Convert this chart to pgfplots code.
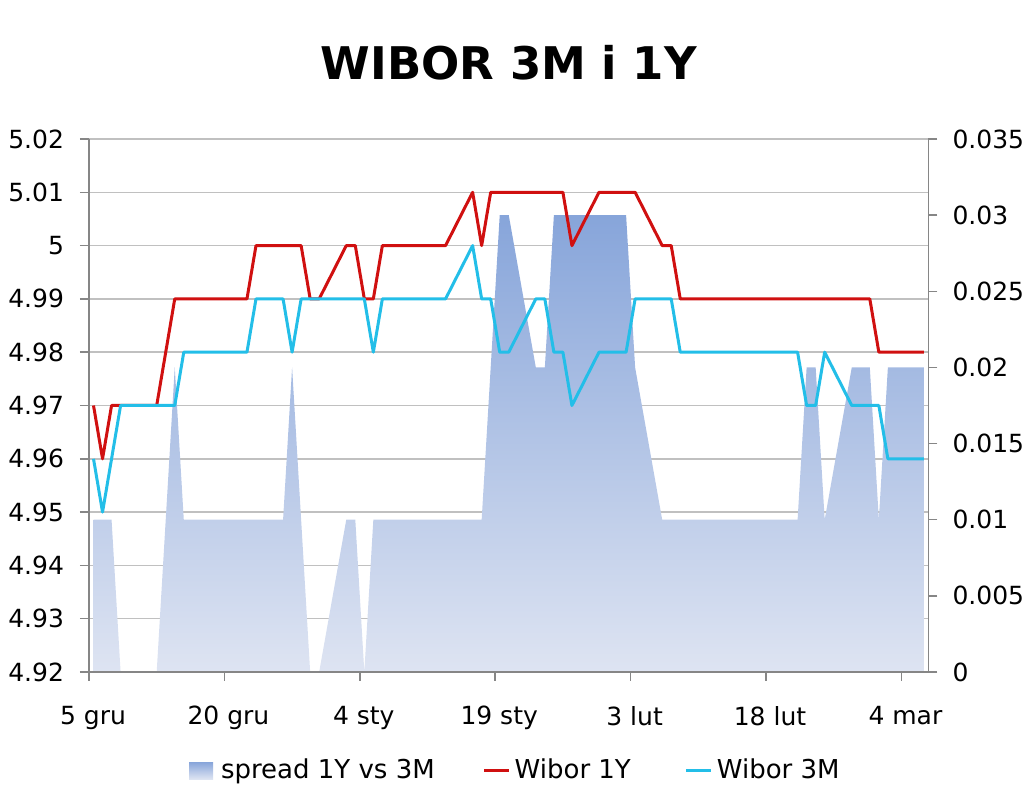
\documentclass[border=0pt]{standalone}
\usepackage{fontspec}
\setmainfont{DejaVu Sans}
\usepackage{pgfplots}
\usepackage{pgfplotstable}
\pgfplotsset{compat=1.18}

\definecolor{red1y}{RGB}{208,16,16}
\definecolor{cyan3m}{RGB}{35,190,232}
\definecolor{sprtop}{RGB}{135,165,218}
\definecolor{sprbot}{RGB}{222,228,242}
\definecolor{gridc}{RGB}{192,192,192}
\definecolor{axisc}{RGB}{134,134,134}

% d = days since 5 gru, y1 = Wibor 1Y, m3 = Wibor 3M, sp = spread 1Y vs 3M
\pgfplotstableread{
d  y1   m3   sp
0  4.97 4.96 0.01
1  4.96 4.95 0.01
2  4.97 4.96 0.01
3  4.97 4.97 0
4  4.97 4.97 0
7  4.97 4.97 0
8  4.98 4.97 0.01
9  4.99 4.97 0.02
10 4.99 4.98 0.01
11 4.99 4.98 0.01
14 4.99 4.98 0.01
15 4.99 4.98 0.01
16 4.99 4.98 0.01
17 4.99 4.98 0.01
18 5.00 4.99 0.01
21 5.00 4.99 0.01
22 5.00 4.98 0.02
23 5.00 4.99 0.01
24 4.99 4.99 0
25 4.99 4.99 0
28 5.00 4.99 0.01
29 5.00 4.99 0.01
30 4.99 4.99 0
31 4.99 4.98 0.01
32 5.00 4.99 0.01
35 5.00 4.99 0.01
36 5.00 4.99 0.01
37 5.00 4.99 0.01
38 5.00 4.99 0.01
39 5.00 4.99 0.01
42 5.01 5.00 0.01
43 5.00 4.99 0.01
44 5.01 4.99 0.02
45 5.01 4.98 0.03
46 5.01 4.98 0.03
49 5.01 4.99 0.02
50 5.01 4.99 0.02
51 5.01 4.98 0.03
52 5.01 4.98 0.03
53 5.00 4.97 0.03
56 5.01 4.98 0.03
57 5.01 4.98 0.03
58 5.01 4.98 0.03
59 5.01 4.98 0.03
60 5.01 4.99 0.02
63 5.00 4.99 0.01
64 5.00 4.99 0.01
65 4.99 4.98 0.01
66 4.99 4.98 0.01
67 4.99 4.98 0.01
70 4.99 4.98 0.01
71 4.99 4.98 0.01
72 4.99 4.98 0.01
73 4.99 4.98 0.01
74 4.99 4.98 0.01
77 4.99 4.98 0.01
78 4.99 4.98 0.01
79 4.99 4.97 0.02
80 4.99 4.97 0.02
81 4.99 4.98 0.01
84 4.99 4.97 0.02
85 4.99 4.97 0.02
86 4.99 4.97 0.02
87 4.98 4.97 0.01
88 4.98 4.96 0.02
91 4.98 4.96 0.02
92 4.98 4.96 0.02
}\wibor

\pgfplotsset{
  base/.style={
    scale only axis, width=419.75pt, height=266.5pt,
    at={(0,0)}, anchor=south west,
    xmin=0, xmax=93,
    axis line style={axisc, line width=0.75pt},
    tick style={axisc, line width=0.75pt},
    major tick length=4.5pt,
    tick align=outside,
    ticklabel style={font=\fontsize{12.5}{15}\selectfont},
  },
}

\begin{document}
\begin{tikzpicture}
\path[use as bounding box] (-44.5pt,-59.5pt) rectangle (467.5pt,336pt);

% grid
\begin{axis}[base,
  ymin=4.92, ymax=5.02,
  ytick={4.93,4.94,4.95,4.96,4.97,4.98,4.99,5.00,5.01,5.02},
  yticklabels={}, xtick=\empty,
  ymajorgrids, grid style={gridc, line width=0.75pt},
  axis line style={draw=none}, major tick length=0pt]
\addplot[draw=none] coordinates {(0,4.92)};
\end{axis}

% spread on right axis
\begin{axis}[base,
  axis y line*=right, axis x line=none,
  ymin=0, ymax=0.035, scaled y ticks=false,
  ytick={0,0.005,0.01,0.015,0.02,0.025,0.03,0.035},
  yticklabels={0,0.005,0.01,0.015,0.02,0.025,0.03,0.035},
  yticklabel style={xshift=4pt}]
\addplot[draw=none, top color=sprtop, bottom color=sprbot]
  table[x expr=\thisrow{d}+0.5, y=sp] {\wibor} \closedcycle;
\end{axis}

% rates on left axis
\begin{axis}[base,
  axis x line*=bottom, axis y line*=left,
  ymin=4.92, ymax=5.02,
  ytick={4.92,4.93,4.94,4.95,4.96,4.97,4.98,4.99,5.00,5.01,5.02},
  yticklabels={4.92,4.93,4.94,4.95,4.96,4.97,4.98,4.99,5,5.01,5.02},
  yticklabel style={xshift=-4.5pt},
  xtick={0,15,30,45,60,75,90},
  xticklabels={5 gru,20 gru,4 sty,19 sty,3 lut,18 lut,4 mar},
  xticklabel style={xshift=2pt, yshift=-9pt},
  legend columns=3,
  legend style={at={(axis description cs:0.509,-0.185)}, anchor=center,
    draw=none, fill=none, font=\fontsize{13}{15}\selectfont,
    /tikz/every odd column/.append style={column sep=0pt}},
  legend image code/.code={\draw[#1] (0pt,0pt) -- (12.5pt,0pt);}]
\addlegendimage{legend image code/.code={\path[draw=none, top color=sprtop, bottom color=sprbot] (0pt,-4.25pt) rectangle (12pt,4.25pt);}}
\addlegendentry{\hspace*{2pt}spread 1Y vs 3M\rule{22pt}{0pt}}
\addplot[red1y, line width=1.5pt, line join=round]
  table[x expr=\thisrow{d}+0.5, y=y1] {\wibor};
\addlegendentry{Wibor 1Y\rule{25pt}{0pt}}
\addplot[cyan3m, line width=1.5pt, line join=round]
  table[x expr=\thisrow{d}+0.5, y=m3] {\wibor};
\addlegendentry{Wibor 3M}
\end{axis}

\node[anchor=base, font=\bfseries\fontsize{22.5}{27}\selectfont] at (209.9pt,296pt) {WIBOR 3M i 1Y};
\end{tikzpicture}
\end{document}
